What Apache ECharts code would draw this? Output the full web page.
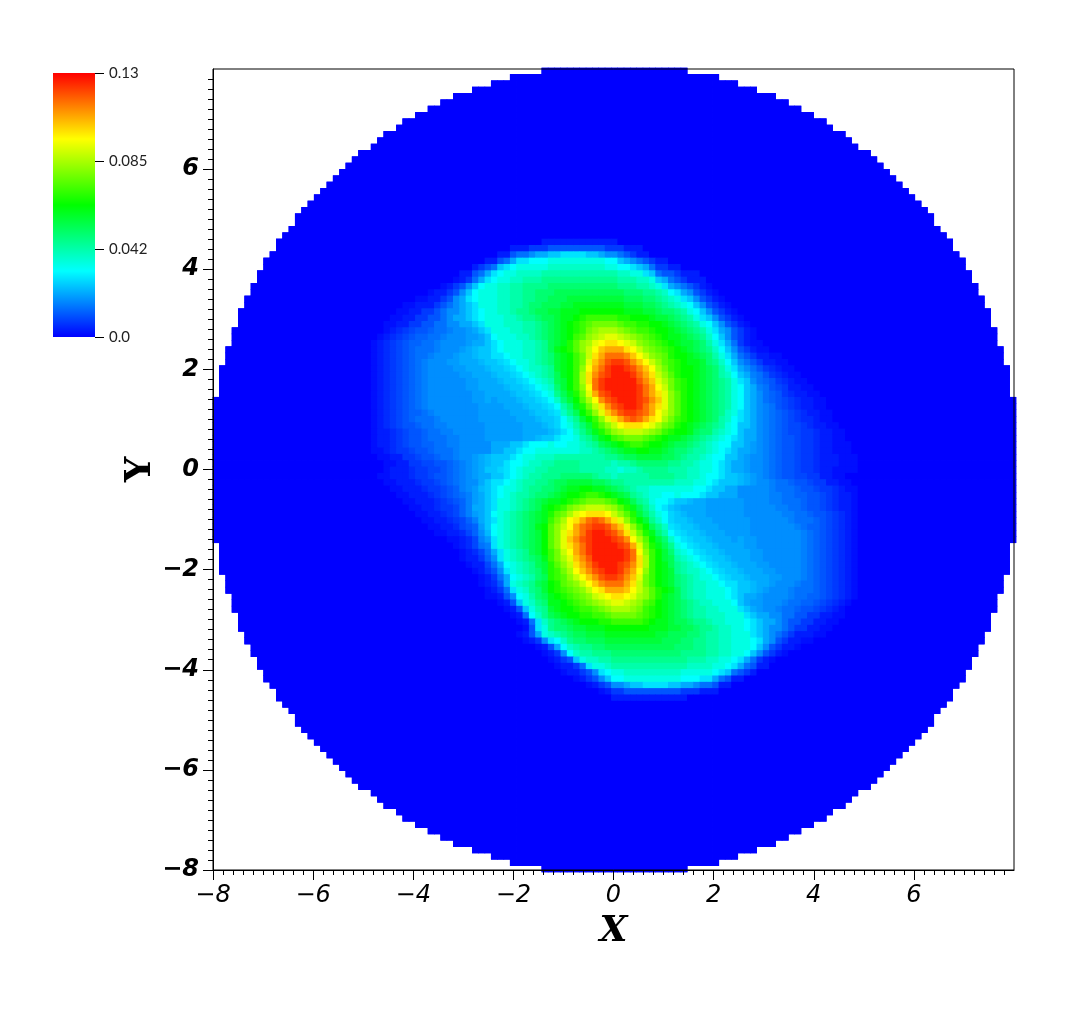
<!DOCTYPE html>
<html><head><meta charset="utf-8">
<style>html,body{margin:0;padding:0;background:#fff}#c{width:1069px;height:1023px}</style>
<script src="https://cdn.jsdelivr.net/npm/echarts@6/dist/echarts.min.js"></script>
</head><body><div id="c"></div>
<script>
const xTickLabels = [-8,-6,-4,-2,0,2,4,6];
const yTickLabels = [-8,-6,-4,-2,0,2,4,6];
const barLabels = ['0.0','0.042','0.085','0.13'];
const barColors = ['#0000ff', '#00ffff', '#00ff00', '#ffff00', '#ff0000'];
const valueMax = 0.13;
// cells drawn in each row of the disc, top to bottom
const rowCellCounts = [23,33,39,45,51,55,59,63,67,69,73,75,77,81,83,85,87,89,91,93,95,97,99,101,101,103,105,107,107,109,111,111,113,113,115,115,117,117,119,119,119,121,121,121,123,123,123,125,125,125,125,125,
127,127,127,127,127,127,127,127,127,127,127,127,127,127,127,127,127,127,127,127,127,127,127,
125,125,125,125,125,123,123,123,121,121,121,119,119,119,117,117,115,115,113,113,111,111,109,107,107,105,103,101,101,99,97,95,93,91,89,87,85,83,81,77,75,73,69,67,63,59,55,51,45,39,33,23];
// colour levels, starting at row 26, column 24
// 0-9 a-z = level in base 36 (0 blue, z red); A-H = half levels 0.5 .. 7.5
const upperLobeRows = [
"0000000000 0000000000 0000000000 0000000000 0000000000 0000000000 0000000000 000000000",
"0000000000 0000000000 0000000011 1111111111 0000000000 0000000000 0000000000 000000000",
"0000000000 0000000000 0001112223 3333333322 2111000000 0000000000 0000000000 000000000",
"0000000000 0000000000 0113445667 7888877655 4321100000 0000000000 0000000000 000000000",
"0000000000 0000000001 134688999a aaaaaaaa99 7654321100 0000000000 0000000000 000000000",
"0000000000 0000000123 4789aaaaab bbbbbbbbaa 9987642211 0000000000 0000000000 000000000",
"0000000000 0000011346 89aabbbbcc cccccccccc bbaa874332 1110000000 0000000000 000000000",
"0000000000 0000A12468 9aabbcccdd dddddddddd cccbba7643 2111000000 0000000000 000000000",
"0000000000 00A123579a abbccdddde eeeeeeeeee dddccba865 4321A00000 0000000000 000000000",
"0000000000 A1123579aa abbccddeee ffffffffff feeeddcb98 65321A0000 0000000000 000000000",
"00000000AA 11235689aa abbccddeef ffgggggggg gfffeedcba 875321A000 0000000000 000000000",
"000000AA11 12345678aa abbccdeeff fgghhhhhhh hgggffedcb a975321A00 0000000000 000000000",
"00000AA112 234556789a abbcddeffg ghhhiiiiii ihhhggfeed ca975321A0 0000000000 000000000",
"0000AA1122 334566789a aabbcddeff ghhijkkkkk jjiiihggfe dca875321A 0000000000 000000000",
"000AA11223 344556678a aabbbccdef ghijklmmmm lkkjjiihgf edca975321 A000000000 000000000",
"000A1B2C33 D44E55F678 aaabbccdef ghijkmnooo nmlkkjiihg fedca86532 1A00000000 000000000",
"00A1B2C3DD 44E555FF67 9aaabbcdef ghiklnopqq ponmlkjihh gfedb97532 1A00000000 000000000",
"0A1B2C3DD4 4E5555F667 89aaabbcdf ghjlnoqrss rqpnmlkjih ggfeca8642 1AA0000000 000000000",
"0A1B2C3D44 4E555F6G77 89aaabbcdf hijlnprtuu usrpnmlkji hgfedb9753 21AA000000 000000000",
"0A1B2C3D44 E555F66G77 889aabbcde ghikmpsuww wvtrpnmlji ihgfeca864 3211AA0000 000000000",
"0A1B2C3D4E 555FF666G7 7H89aabcde ghikmqtvxy yxvtrpnlkj ihhgedb975 43211AA000 000000000",
"0A1B2C3D4E 5555FF666G 77H89abbcd ghiknruwyz zyxvtromkj iihgfeca86 5432B1AA00 000000000",
"0A1B2C3D4E 55555FF666 G77H89abcd fhikosvxyz zzywuspnlj iihgfecb97 6E432B1AA0 000000000",
"0A1B2C3D4E 555555FF66 6G77H89abc fgikoswyzz zzzxvtqomk jihgfedca8 754D32B1AA 000000000",
"0A1B2C3D4E 555555FF66 66G77H89ab egiknrwyzz zzzywurpmk jihgfedca9 76E43C211A A00000000",
"0A1B2C3D4E 5555555FF6 666G77H89a dfhjmquxyz zzzywusqnl jihgfedca9 7654D32B11 AA0000000",
"0A1B2C3D4E 5555555FF6 F666G77H89 begilorvxy zzzyxvtqnl jihgfedca9 7654D3C2B1 1AA000000",
"0A1B2C3D4E 55555555FF FF666G77H8 9cehjmpsvx yzzywusqnl jihgfedca9 765E43C2B1 1AA000000",
"0A1B2C3DD4 E5555555FF FFF666G77H 8bdfiknqtv xyyxwurpnl jihgfedba8 765E4D3C2B 11AA00000",
"0A1B2C3D44 4E555555FF FFFF666G77 H9bdgiknqs uwxwusromk jihgfecb98 765E4D3C2B B1AA00000",
"0A1B2C33D4 4EE555555F FFFFF666G7 H9acegjlnp rsssrqomlj ihgfedca97 765E4D3CC2 B11AA0000",
"0A11B2C33D 44EE55555F FFFFF6666G 789bdfhjln oppponmkji ihfeecba97 665E4D3CC2 2B11AA000",
"0A11B2C33D 444EE5555F FFFFF66G77 899acdfhik lmmmlkjihh gfedcba987 665E4D33C2 2B11AA000",
"0A11B2C33D D44EE55555 666778999a 99aabcdfgh ijkkjiihgf fedcba9977 6F5E4D33C2 2B11AAA00",
"0AA1B22C33 D444E55555 6677899aaa aaaabbcdef ghhiihhgfe edccba9876 6F5E4D33C2 2B11AAA00",
"00AA1122C3 3D44E55F6G 77789aabbb ccccccccdd effggggffe dccba99776 F55E4D33C2 2B111AAA0",
"000AA1122C C33D4E5F6G 77899abbcc ddddcccccb ccdeeeeedd ccbaa98766 F55E4D33C2 2B111AAA0",
"000A111B22 CC3D4E5F67 7H89abbccd ddddccccbb abbcddddcc cbbaa98766 F55E4D33C2 2B11AAAA0"
];
const lowerLobeRows = [
"00AA111B2 2C33D4E5F6 67789abccd ddeeeeedcc bcccccdddd ccbba99877 G6F5E4D33C C2211AA000",
"000AA111B 22C3D4E556 7889abccdd effggggffe ddcccccccc bbbaa98777 G6F55E44D3 3C2211AA00",
"0000AA111 B22C3DE5FG 789aabcdde efghhiihhg fedcbbaaaa aaa9987766 55555E444D 33C22B1AA0",
"00000AA11 1B2C3D4EF6 789abccdee fghiijkkji hgfdcbaa99 a999877666 55555EE44D D33C2B11A0",
"000000AA1 11B2C3DEF6 78aabcdefg hhijklmmml kihfdca998 77G66FFFFF F5555EE444 D33C2B11A0",
"0000000AA 11B22CDE66 78aabcdefh ijkmnopppo nljhfdb987 G6666FFFFF F55555EE44 D33C2B11A0",
"00000000A A11B2CDEF6 79abcdefgh jlmoqrsssr pnljgeca9H 7G666FFFFF F555555EE4 4D33C2B1A0",
"000000000 AA11B2CDE6 78abcdefgh kmorsuwxwu sqnkigdb9H 77G666FFFF FF555555E4 44D3C2B1A0",
"000000000 0AA11BC3DF 79abcdefhi lnpruwxyyx vtqnkifdb8 H77G666FFF FF5555555E 4DD3C2B1A0",
"000000000 00AA11BCD5 G9abcdefgi lnqsuwyzzy xvspmjhec9 8H77G666FF FF55555555 E4D3C2B1A0",
"000000000 0000AA1BCE F8abcdefgi lnqtvxyzzz yxvroligeb 98H77G666F 6FF5555555 E4D3C2B1A0",
"000000000 00000A1BC4 E8abcdefgi lnqsuwyzzz zyxuqmjhfd a98H77G666 6FF5555555 E4D3C2B1A0",
"000000000 000000A1BC 468abcdfgi kmpruwyzzz zzywrnkige ba98H77G66 66FF555555 E4D3C2B1A0",
"000000000 000000A112 D58abcdefh kmoqtvxzzz zzywsokigf cba98H77G6 66FF555555 E4D3C2B1A0",
"000000000 0000000A11 C469abcdfg jlnpsuwyzz zyxvsokihf dcba98H77G 666FF55555 E4D3C2B1A0",
"000000000 00000000A1 2358abcdeg jkmortvxyz zywurnkihg dcbba98H77 G666FF5555 E4D3C2B1A0",
"000000000 000000000A 12469abcef jklnprtvxy yxvtqmkihg edcbaa98H7 7G666FF555 E4D3C2B1A0",
"000000000 000000000A 1B36abcdfg ijlmnprtvw wwuspmkihg edcbbaa988 77G66F555E 44D3C2B1A0",
"000000000 0000000000 A1248abdeg ijklmnprsu uutrpnljih fdcbbaaa98 77G6F555E4 44D3C2B1A0",
"000000000 0000000000 AA1359acef hijklmnpqr ssrqonljhg fdcbbaaa98 766F5555E4 4DD3C2B1A0",
"000000000 0000000000 00A137abde hhijklmnop qqponlkihg fedcbbaaa9 76FF555E44 DD3C2B1A00",
"000000000 0000000000 000A137acd ghiijkklmn ooonmkjihg fedccbbaaa 876F55E44D 33C2B1A000",
"000000000 0000000000 0000A149bd fghiijjkkl mmmmlkjihg fedccbbbaa a876655443 32211AA000",
"000000000 0000000000 00000A148b defghiiijj kkkkkjihhg ffeddcbbaa a987665433 2211AA0000",
"000000000 0000000000 000000A38a deefgghhhi iiiiiihhhg gffeddcbba a987655432 211AA00000",
"000000000 0000000000 00000A136a bcdeffgggh hhhhhhhggf ffeedccbba aa87654321 11AA000000",
"000000000 0000000000 000000A125 89bdeefffg ggggggggff feeddccbba aa98653211 AA00000000",
"000000000 0000000000 00000000A1 369bcddeef ffffffffff eeeddccbba aa9753211A 0000000000",
"000000000 0000000000 000000000A 1259bccddd eeeeeeeeee eddddccbba a975321A00 0000000000",
"000000000 0000000000 0000000000 A1237abbcc dddddddddd ddcccbbaa9 86421A0000 0000000000",
"000000000 0000000000 0000000000 0A11248aab cccccccccc ccbbbbaa98 6431100000 0000000000",
"000000000 0000000000 0000000000 00A1123589 aabbbbbbbb baaaaa9874 3210000000 0000000000",
"000000000 0000000000 0000000000 0000A12357 99aaaaaaaa a999886431 1000000000 0000000000",
"000000000 0000000000 0000000000 000000A123 5567788887 7665443110 0000000000 0000000000",
"000000000 0000000000 0000000000 00000000A1 2233333333 3222111000 0000000000 0000000000",
"000000000 0000000000 0000000000 0000000000 1111111111 1100000000 0000000000 0000000000",
"000000000 0000000000 0000000000 0000000000 0000000000 0000000000 0000000000 0000000000"
];
const blockRows = upperLobeRows.concat(lowerLobeRows);
const firstBlockRow = 26, firstBlockCol = 24, cellsAcross = 127;
const halfCodes = 'ABCDEFGH';

const levels = new Map();
blockRows.forEach((row, k) => {
  const chunks = row.split(' ');
  chunks.forEach((chunk, n) => {
    const start = n === 0 ? 0 : chunks[0].length + (n - 1) * 10;
    for (let p = 0; p < chunk.length; p++) {
      const h = halfCodes.indexOf(chunk[p]);
      levels.set((firstBlockRow + k) + ':' + (firstBlockCol + start + p), h >= 0 ? h + 0.5 : parseInt(chunk[p], 36));
    }
  });
});
const cells = [];
rowCellCounts.forEach((count, r) => {
  const first = (cellsAcross - count) / 2;
  for (let c = first; c < first + count; c++) {
    const lv = levels.get(r + ':' + c) || 0;
    cells.push([c, cellsAcross - 1 - r, lv * valueMax / 36]);
  }
});
const catIdx = Array.from({length: cellsAcross}, (_, i) => String(i));
const minus = v => String(v).replace('-', '\u2212');
const hide = {show: false};
const heat = z => ({type: 'heatmap', xAxisIndex: 0, yAxisIndex: 0, data: cells, progressive: 0, silent: true, z, itemStyle: {borderWidth: 0, opacity: 1}, emphasis: {disabled: true}});

const chart = echarts.init(document.getElementById('c'), null, {renderer: 'canvas'});
chart.setOption({
  animation: false,
  backgroundColor: '#fff',
  grid: [
    {left: 213, top: 68, width: 803, height: 804, show: false},
    {left: 213, top: 69, width: 801, height: 801, show: true, borderColor: '#000', borderWidth: 1, backgroundColor: 'transparent', z: 5},
    {left: 53, top: 73, width: 42, height: 264, show: false}
  ],
  visualMap: [{
    type: 'continuous', seriesIndex: [0, 1], min: 0, max: valueMax, show: false,
    inRange: {color: barColors, opacity: 1}
  }],
  graphic: [{
    type: 'rect', left: 53, top: 73, silent: true, z: 3,
    shape: {width: 42, height: 264},
    style: {fill: new echarts.graphic.LinearGradient(0, 1, 0, 0, barColors.map((color, i) => ({offset: i / (barColors.length - 1), color})))}
  }],
  xAxis: [
    {gridIndex: 0, type: 'category', data: catIdx, show: false},
    {gridIndex: 1, type: 'value', min: -8, max: 8, interval: 2, z: 6,
      axisLine: {show: true, onZero: false, lineStyle: {color: '#000', width: 1}},
      axisTick: {show: true, length: 10, customValues: xTickLabels, lineStyle: {color: '#000', width: 1}},
      minorTick: {show: true, splitNumber: 10, length: 5, lineStyle: {color: '#000', width: 1}},
      splitLine: hide, minorSplitLine: hide,
      axisLabel: {show: true, margin: 14, color: '#000', fontFamily: 'DejaVu Sans', fontStyle: 'italic', fontSize: 24, showMaxLabel: true,
        formatter: v => xTickLabels.includes(v) ? minus(v) : ''},
      name: 'X', nameLocation: 'middle', nameGap: 44,
      nameTextStyle: {fontFamily: 'DejaVu Serif', fontStyle: 'italic', fontWeight: 'bold', fontSize: 36, color: '#000'}},
    {gridIndex: 2, type: 'value', min: 0, max: 1, show: false}
  ],
  yAxis: [
    {gridIndex: 0, type: 'category', data: catIdx, show: false},
    {gridIndex: 1, type: 'value', min: -8, max: 8, interval: 2, z: 6,
      axisLine: {show: true, onZero: false, lineStyle: {color: '#000', width: 1}},
      axisTick: {show: true, length: 10, customValues: yTickLabels, lineStyle: {color: '#000', width: 1}},
      minorTick: {show: true, splitNumber: 10, length: 5, lineStyle: {color: '#000', width: 1}},
      splitLine: hide, minorSplitLine: hide,
      axisLabel: {show: true, margin: 14, color: '#000', fontFamily: 'DejaVu Sans', fontStyle: 'italic', fontWeight: 'bold', fontSize: 24,
        formatter: v => yTickLabels.includes(v) ? minus(v) : ''},
      name: 'Y', nameLocation: 'middle', nameGap: 54, nameMoveOverlap: false,
      nameTextStyle: {fontFamily: 'DejaVu Serif', fontWeight: 'bold', fontSize: 36, color: '#000'}},
    {gridIndex: 2, type: 'category', data: barLabels, boundaryGap: false, position: 'right', z: 6,
      axisLine: {show: false, onZero: false},
      axisTick: {show: true, length: 9, lineStyle: {color: '#000', width: 1}},
      splitLine: hide,
      axisLabel: {show: true, margin: 14, color: '#222', fontFamily: 'Lato', fontSize: 15}}
  ],
  // painted twice so the seams between neighbouring cells do not show
  series: [
    heat(2),
    heat(3),
    {type: 'scatter', xAxisIndex: 1, yAxisIndex: 1, data: [], silent: true},
    {type: 'scatter', xAxisIndex: 2, yAxisIndex: 2, data: [], silent: true}
  ]
});
</script></body></html>
